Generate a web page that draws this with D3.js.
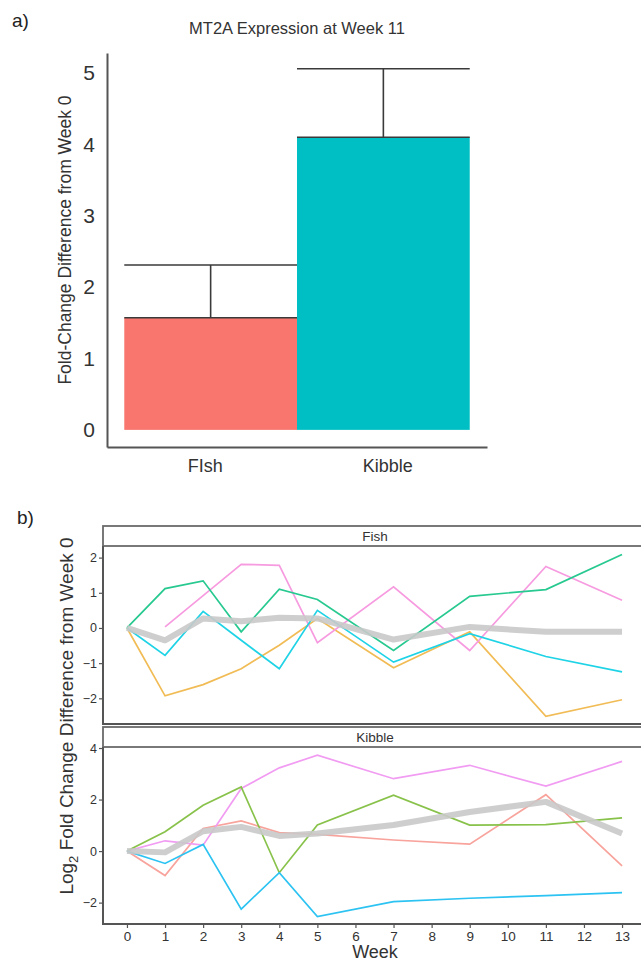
<!DOCTYPE html>
<html><head><meta charset="utf-8">
<script src="https://cdn.jsdelivr.net/npm/d3@7"></script>
<style>html,body{margin:0;padding:0;background:#fff;}svg{display:block;font-family:"Liberation Sans",Arial,sans-serif;}</style>
</head><body>
<script>
// ---- Panel a) data ----
const barCategories = ["FIsh", "Kibble"];
const barValues = [1.57, 4.10];
const barErrorTop = [2.31, 5.06];
const barColors = ["#F8766D", "#00BFC4"];
const barTicks = [0, 1, 2, 3, 4, 5];

// ---- Panel b) data ----
const weeks = [0, 1, 2, 3, 4, 5, 7, 9, 11, 13];
const weekTicks = [0,1,2,3,4,5,6,7,8,9,10,11,12,13];
const fishGreen  = [0, 1.12, 1.34, -0.11, 1.10, 0.81, -0.64, 0.90, 1.09, 2.09];
const fishPink   = [null, 0.03, 0.92, 1.81, 1.78, -0.42, 1.17, -0.64, 1.75, 0.79];
const fishCyan   = [0, -0.78, 0.47, -0.35, -1.16, 0.50, -0.97, -0.16, -0.81, -1.25];
const fishOrange = [0, -1.93, -1.61, -1.16, -0.49, 0.27, -1.13, -0.11, -2.51, -2.04];
const fishMean   = [0, -0.35, 0.27, 0.19, 0.29, 0.27, -0.33, 0.03, -0.11, -0.11];
const kibblePink   = [0, 0.40, 0.23, 2.43, 3.23, 3.72, 2.81, 3.33, 2.52, 3.48];
const kibbleGreen  = [0, 0.75, 1.78, 2.49, -0.84, 1.01, 2.17, 1.01, 1.03, 1.29];
const kibbleSalmon = [0, -0.95, 0.88, 1.17, 0.72, 0.65, 0.43, 0.27, 2.19, -0.57];
const kibbleBlue   = [0, -0.48, 0.26, -2.25, -0.84, -2.54, -1.96, -1.83, -1.73, -1.61];
const kibbleMean   = [0, -0.05, 0.77, 0.94, 0.59, 0.68, 1.01, 1.52, 1.91, 0.68];
const fishTicks = [-2, -1, 0, 1, 2];
const kibbleTicks = [-2, 0, 2, 4];

const W = 641, H = 965;
const svg = d3.select("body").append("svg").attr("width", W).attr("height", H);
const axisCol = "#555";

// ================= Panel a =================
svg.append("text").attr("x", 12).attr("y", 27).attr("font-size", 19).attr("fill", "#222").text("a)");
svg.append("text").attr("x", 297).attr("y", 34).attr("text-anchor", "middle").attr("font-size", 16.5).attr("fill", "#333").text("MT2A Expression at Week 11");

const ay = d3.scaleLinear().domain([-0.24, 5.28]).range([447, 53]);
const ax = d3.scaleLinear().domain([0.4, 2.6]).range([107, 487]);
const gA = svg.append("g");

barCategories.forEach((c, i) => {
  const x0 = ax(i + 0.5), x1 = ax(i + 1.5);
  gA.append("rect").attr("x", x0).attr("width", x1 - x0)
    .attr("y", ay(barValues[i])).attr("height", ay(0) - ay(barValues[i]))
    .attr("fill", barColors[i]);
});
barCategories.forEach((c, i) => {
  const x0 = ax(i + 0.5), x1 = ax(i + 1.5), xm = ax(i + 1);
  const e = gA.append("g").attr("stroke", "#3a3a3a").attr("stroke-width", 1.6);
  e.append("line").attr("x1", x0).attr("x2", x1).attr("y1", ay(barValues[i])).attr("y2", ay(barValues[i]));
  e.append("line").attr("x1", x0).attr("x2", x1).attr("y1", ay(barErrorTop[i])).attr("y2", ay(barErrorTop[i]));
  e.append("line").attr("x1", xm).attr("x2", xm).attr("y1", ay(barValues[i])).attr("y2", ay(barErrorTop[i]));
});
// axes
const yAxA = d3.axisLeft(ay).tickValues(barTicks).tickSize(0).tickPadding(12).tickFormat(d3.format("d"));
const gyA = gA.append("g").attr("transform", "translate(107,0)").call(yAxA);
gyA.select(".domain").attr("stroke", axisCol).attr("stroke-width", 2);
gyA.selectAll("text").attr("font-size", 21).attr("fill", "#333").attr("font-family", "Liberation Sans, Arial, sans-serif");
const xAxA = d3.axisBottom(ax).tickValues([1, 2]).tickSize(0).tickPadding(12).tickFormat((d) => barCategories[d - 1]);
const gxA = gA.append("g").attr("transform", "translate(0,447)").call(xAxA);
gxA.select(".domain").attr("stroke", axisCol).attr("stroke-width", 2);
gxA.selectAll("text").attr("font-size", 18).attr("fill", "#333").attr("font-family", "Liberation Sans, Arial, sans-serif")
  .attr("dx", (d) => (d === 1 ? -6 : 4));
svg.append("text").attr("transform", "translate(71,240) rotate(-90)").attr("text-anchor", "middle")
  .attr("font-size", 17.5).attr("fill", "#333").text("Fold-Change Difference from Week 0");

// ================= Panel b =================
svg.append("text").attr("x", 17).attr("y", 524).attr("font-size", 19).attr("fill", "#222").text("b)");

const bx = d3.scaleLinear().domain([-0.65, 13.65]).range([102.2, 646.8]);
const panels = [
  { name: "Fish", stripTop: 526, top: 546, bottom: 724, domain: [-2.73, 2.33], ticks: fishTicks,
    series: [[fishOrange, "#F1BC55"], [fishPink, "#F79BE0"], [fishCyan, "#1FD3E6"], [fishGreen, "#27C990"]], mean: fishMean },
  { name: "Kibble", stripTop: 727, top: 747, bottom: 924, domain: [-2.83, 4.04], ticks: kibbleTicks,
    series: [[kibbleSalmon, "#F8A39C"], [kibblePink, "#F19CF2"], [kibbleGreen, "#88C24A"], [kibbleBlue, "#2CC3F2"]], mean: kibbleMean }
];

panels.forEach((p, pi) => {
  const g = svg.append("g");
  const y = d3.scaleLinear().domain(p.domain).range([p.bottom, p.top]);
  // strip
  g.append("rect").attr("x", 103).attr("y", p.stripTop).attr("width", 560).attr("height", p.top - p.stripTop)
    .attr("fill", "#fff").attr("stroke", "#6b6b6b").attr("stroke-width", 1.8);
  g.append("text").attr("x", 375).attr("y", (p.stripTop + p.top) / 2 + 4.5).attr("text-anchor", "middle")
    .attr("font-size", 13.5).attr("fill", "#333").text(p.name);
  // lines
  const line = d3.line().defined((d) => d.v !== null).x((d) => bx(d.w)).y((d) => y(d.v));
  p.series.forEach(([vals, col]) => {
    g.append("path").datum(weeks.map((w, i) => ({ w, v: vals[i] })))
      .attr("d", line).attr("fill", "none").attr("stroke", col).attr("stroke-width", 1.7)
      .attr("stroke-linejoin", "miter");
  });
  g.append("path").datum(weeks.map((w, i) => ({ w, v: p.mean[i] })))
    .attr("d", line).attr("fill", "none").attr("stroke", "#c9c9c9").attr("stroke-opacity", 0.9)
    .attr("stroke-width", 6).attr("stroke-linejoin", "round");
  // y axis
  const ya = d3.axisLeft(y).tickValues(p.ticks).tickSize(4).tickPadding(2).tickFormat(d3.format("d"));
  const gy = g.append("g").attr("transform", "translate(103,0)").call(ya);
  gy.select(".domain").remove();
  gy.selectAll("line").attr("stroke", axisCol).attr("stroke-width", 1.2);
  gy.selectAll("text").attr("font-size", 12.5).attr("fill", "#333").attr("font-family", "Liberation Sans, Arial, sans-serif");
  g.append("line").attr("x1", 103).attr("x2", 103).attr("y1", p.top).attr("y2", p.bottom + 1)
    .attr("stroke", axisCol).attr("stroke-width", 2);
  g.append("line").attr("x1", 102).attr("x2", 645).attr("y1", p.bottom).attr("y2", p.bottom)
    .attr("stroke", axisCol).attr("stroke-width", 2);
  if (pi === 1) {
    const xa = d3.axisBottom(bx).tickValues(weekTicks).tickSize(4).tickPadding(3).tickFormat(d3.format("d"));
    const gx = g.append("g").attr("transform", `translate(0,${p.bottom})`).call(xa);
    gx.select(".domain").remove();
    gx.selectAll("line").attr("stroke", axisCol).attr("stroke-width", 1.2);
    gx.selectAll("text").attr("font-size", 13.5).attr("fill", "#333").attr("font-family", "Liberation Sans, Arial, sans-serif");
  }
});

svg.append("text").attr("x", 375).attr("y", 958).attr("text-anchor", "middle").attr("font-size", 18).attr("fill", "#333").text("Week");
const yt = svg.append("text").attr("transform", "translate(73,716) rotate(-90)").attr("text-anchor", "middle")
  .attr("font-size", 19).attr("fill", "#333");
yt.append("tspan").text("Log");
yt.append("tspan").attr("font-size", 13).attr("dy", 5).text("2");
yt.append("tspan").attr("dy", -5).text(" Fold Change Difference from Week 0");
</script>
</body></html>
